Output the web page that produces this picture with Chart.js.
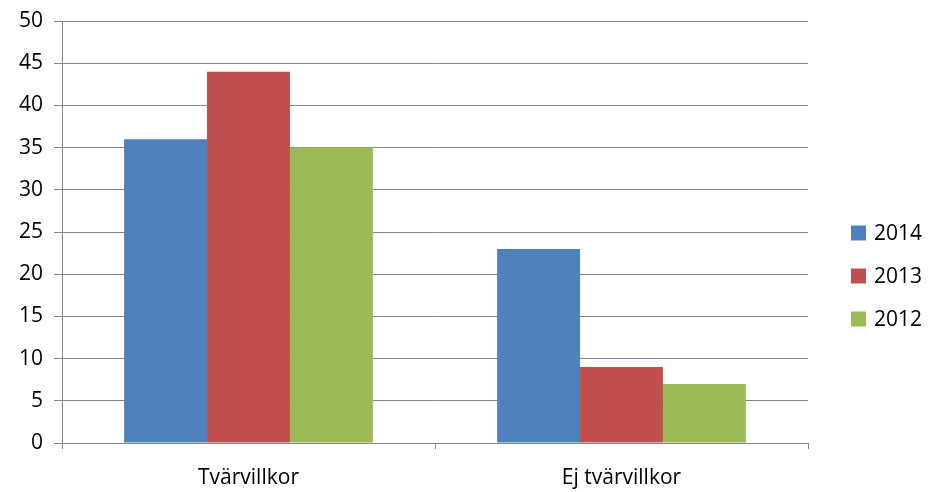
<!DOCTYPE html>
<html>
<head>
<meta charset="utf-8">
<script src="https://cdn.jsdelivr.net/npm/chart.js@4"></script>
<style>
	html, body { margin: 0; padding: 0; background: #fff; }
	#wrap { width: 929px; height: 492px; }
</style>
</head>
<body>
<div id="wrap"><canvas id="chart"></canvas></div>
<script>
'use strict';

const categories = ['Tvärvillkor', 'Ej tvärvillkor'];
const years = ['2014', '2013', '2012'];
const values2014 = [36, 23];
const values2013 = [44, 9];
const values2012 = [35, 7];
const colors = ['#4F81BD', '#C0504D', '#9BBB59'];
const yTicks = { min: 0, max: 50, step: 5 };

const FONT = '"Open Sans", sans-serif';
const GRID = '#878787';

/**
 * Draws the legend on the right side, like the Excel one
 */
const sideLegend = {
	id: 'sideLegend',
	afterDraw(chart) {
		const ctx = chart.ctx;
		const sets = chart.data.datasets;
		const gap = 43;
		const midY = 276;
		const startY = midY - gap * (sets.length - 1) / 2;
		ctx.save();
		ctx.font = '21px ' + FONT;
		ctx.textBaseline = 'middle';
		sets.forEach(function (ds, i) {
			let y = startY + i * gap;
			ctx.fillStyle = ds.backgroundColor;
			ctx.fillRect(851, y - 7.5, 15, 15);
			ctx.fillStyle = '#000';
			ctx.fillText(ds.label, 874, y + 1);
		});
		ctx.restore();
	}
};

function createChart(canvas) {
	let datasets = [values2014, values2013, values2012].map(function (data, i) {
		return {
			label: years[i],
			data: data,
			backgroundColor: colors[i],
			borderWidth: 0,
			categoryPercentage: 0.667,
			barPercentage: 1
		};
	});

	return new Chart(canvas, {
		type: 'bar',
		data: {
			labels: categories,
			datasets: datasets
		},
		plugins: [sideLegend],
		options: {
			responsive: true,
			maintainAspectRatio: false,
			animation: false,
			layout: {
				padding: { top: 21, right: 121, left: 0, bottom: 0 }
			},
			plugins: {
				legend: { display: false },
				tooltip: { enabled: false }
			},
			scales: {
				x: {
					offset: true,
					grid: {
						offset: true,
						drawOnChartArea: false,
						color: GRID,
						tickLength: 6
					},
					border: { color: GRID },
					ticks: {
						color: '#000',
						font: { family: FONT, size: 21 },
						padding: 16
					},
					afterFit: function (scale) { scale.height = 49; }
				},
				y: {
					min: yTicks.min,
					max: yTicks.max,
					grid: {
						color: GRID,
						tickLength: 8
					},
					border: { color: GRID },
					ticks: {
						stepSize: yTicks.step,
						color: '#000',
						font: { family: FONT, size: 21 },
						padding: 11
					},
					afterFit: function (scale) {
						scale.width = 62;
						scale.paddingTop = 0;
						scale.paddingBottom = 0;
					}
				}
			}
		}
	});
}

createChart(document.getElementById('chart'));
</script>
</body>
</html>
